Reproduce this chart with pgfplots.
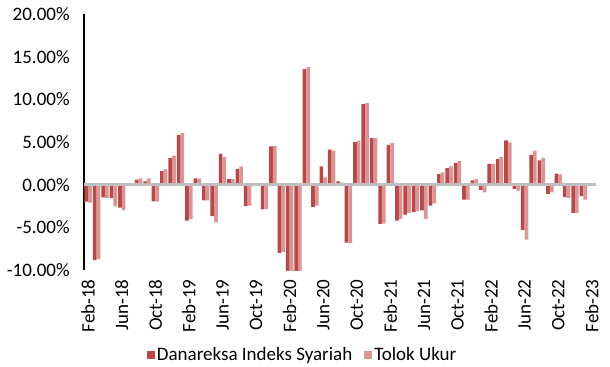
\documentclass[border=0pt]{standalone}
\usepackage{fontspec}
\setmainfont{Carlito}
\usepackage{pgfplots}
\pgfplotsset{compat=1.18}
\usepackage{pgfplotstable}

\definecolor{danareksa}{RGB}{184,72,74}
\definecolor{tolok}{RGB}{217,150,148}
\definecolor{zeroline}{RGB}{191,191,191}

% Monthly returns (%), Feb-18 (k=0) to Feb-23 (k=60)
\pgfplotstableread{
k D T
0 -2.00 -2.10
1 -8.85 -8.70
2 -1.50 -1.55
3 -1.55 -2.55
4 -2.70 -3.00
5 0.05 0.00
6 0.60 0.75
7 0.40 0.75
8 -1.95 -2.00
9 1.60 1.80
10 3.10 3.40
11 5.85 6.05
12 -4.20 -4.00
13 0.75 0.75
14 -1.85 -1.85
15 -3.70 -4.40
16 3.60 3.25
17 0.65 0.65
18 1.85 2.15
19 -2.50 -2.45
20 0.00 0.05
21 -2.90 -2.85
22 4.50 4.55
23 -8.00 -7.90
24 -10.80 -10.60
25 -17.00 -16.80
26 13.55 13.80
27 -2.60 -2.45
28 2.15 0.85
29 4.10 4.00
30 0.40 0.25
31 -6.80 -6.85
32 5.00 5.15
33 9.45 9.55
34 5.45 5.45
35 -4.60 -4.55
36 4.65 4.90
37 -4.20 -4.00
38 -3.50 -3.30
39 -3.20 -3.10
40 -3.00 -4.00
41 -2.45 -2.20
42 1.25 1.45
43 1.95 2.15
44 2.55 2.75
45 -1.75 -1.75
46 0.50 0.65
47 -0.60 -0.90
48 2.45 2.45
49 3.00 3.25
50 5.20 4.95
51 -0.50 -0.70
52 -5.30 -6.45
53 3.50 4.00
54 2.85 3.10
55 -1.10 -0.90
56 1.30 1.20
57 -1.45 -1.55
58 -3.30 -3.30
59 -1.35 -1.75
60 0.00 0.00
}\returns

\begin{document}
\fontsize{9.5}{11.4}\selectfont
\begin{tikzpicture}
\begin{axis}[
  at={(42pt,48pt)}, anchor=south west,
  width=256pt, height=128pt, scale only axis,
  xmin=-0.5, xmax=60.5, ymin=-10, ymax=20,
  ybar=0pt, bar width=1.85pt,
  axis y line*=left, axis x line*=bottom,
  x axis line style={draw=none},
  y axis line style={black, line width=0.6pt},
  ytick={-10,-5,...,20},
  yticklabels={-10.00\%,-5.00\%,0.00\%,5.00\%,10.00\%,15.00\%,20.00\%},
  xtick={0,4,...,60},
  xticklabels={Feb-18,Jun-18,Oct-18,Feb-19,Jun-19,Oct-19,Feb-20,Jun-20,Oct-20,Feb-21,Jun-21,Oct-21,Feb-22,Jun-22,Oct-22,Feb-23},
  major tick length=0pt,
  xticklabel style={rotate=90, anchor=east, inner sep=0pt},
  xticklabel shift=4.5pt,
  yticklabel style={anchor=east, inner sep=0pt},
  yticklabel shift=7pt,
  tick label style={font=\fontsize{9.5}{11.4}\selectfont},
  legend style={at={(axis description cs:0.427,-0.332)}, anchor=center,
    legend columns=2, draw=none, fill=none,
    font=\fontsize{9.5}{11.4}\selectfont,
    /tikz/every even column/.append style={column sep=5pt},
    nodes={inner sep=1pt}},
  legend image code/.code={\fill[#1] (0pt,-2pt) rectangle (4pt,2pt);},
]
\addplot[fill=danareksa, draw=none] table[x=k, y=D] {\returns};
\addlegendentry{Danareksa Indeks Syariah}
\addplot[fill=tolok, draw=none] table[x=k, y=T] {\returns};
\addlegendentry{Tolok Ukur}
\draw[zeroline, line width=1.2pt] (axis cs:-0.5,0) -- (axis cs:60.5,0);
\end{axis}
\pgfresetboundingbox
\path[use as bounding box] (0,0) rectangle (305pt,183pt);
\end{tikzpicture}
\end{document}
